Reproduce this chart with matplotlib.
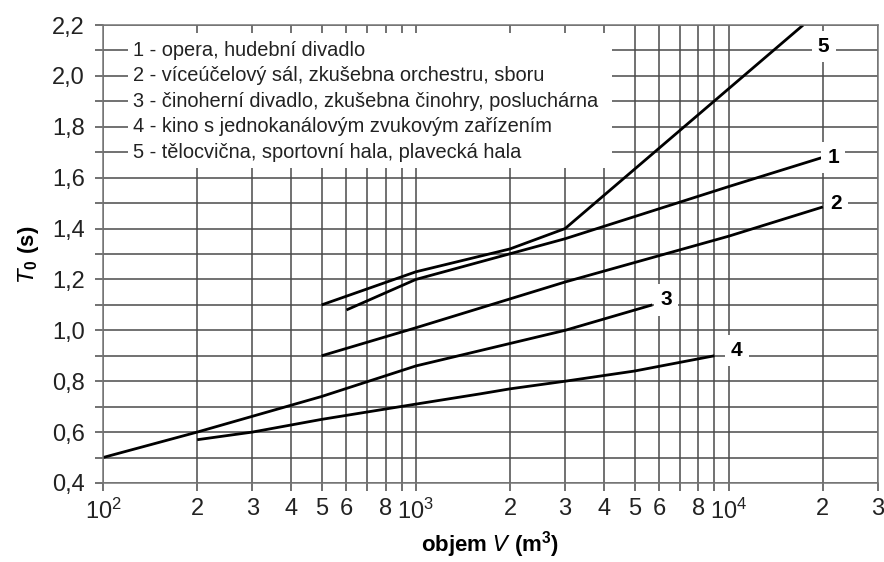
import numpy as np
import matplotlib
matplotlib.use('Agg')
import matplotlib.pyplot as plt
from matplotlib.patches import Rectangle

plt.rcParams['font.family'] = ['Liberation Sans', 'DejaVu Sans']
plt.rcParams['mathtext.default'] = 'regular'

# curve data: volume V (m3) -> T0 (s)
v1 = [600, 1000, 3000, 10000, 20000]
t1 = [1.08, 1.20, 1.36, 1.565, 1.68]
v2 = [500, 1000, 3000, 10000, 20000]
t2 = [0.90, 1.01, 1.19, 1.37, 1.485]
v3 = [100, 200, 500, 1000, 3000, 5700]
t3 = [0.50, 0.60, 0.74, 0.86, 1.00, 1.10]
v4 = [200, 300, 500, 1000, 1600, 2000, 3000, 5000, 9000]
t4 = [0.57, 0.60, 0.65, 0.71, 0.75, 0.77, 0.80, 0.84, 0.90]
v5 = [500, 1000, 2000, 3000, 17300]
t5 = [1.10, 1.23, 1.32, 1.40, 2.20]

curves = [(v1, t1), (v2, t2), (v3, t3), (v4, t4), (v5, t5)]
curve_names = ['1', '2', '3', '4', '5']
name_pos = [(21600, 1.68), (22000, 1.50), (6300, 1.12), (10600, 0.92), (20100, 2.115)]

legend_lines = ['1 - opera, hudební divadlo',
                '2 - víceúčelový sál, zkušebna orchestru, sboru',
                '3 - činoherní divadlo, zkušebna činohry, posluchárna',
                '4 - kino s jednokanálovým zvukovým zařízením',
                '5 - tělocvična, sportovní hala, plavecká hala']
legend_y = [2.1, 2.0, 1.9, 1.8, 1.7]

x_ticks = [100, 200, 300, 400, 500, 600, 700, 800, 900,
           1000, 2000, 3000, 4000, 5000, 6000, 7000, 8000, 9000,
           10000, 20000, 30000]
x_labels = ['$10^2$', '2', '3', '4', '5', '6', '', '8', '',
            '$10^3$', '2', '3', '4', '5', '6', '', '8', '',
            '$10^4$', '2', '3']
y_ticks = [0.4, 0.6, 0.8, 1.0, 1.2, 1.4, 1.6, 1.8, 2.0, 2.2]
y_labels = ['0,4', '0,6', '0,8', '1,0', '1,2', '1,4', '1,6', '1,8', '2,0', '2,2']
y_minor = [0.5, 0.7, 0.9, 1.1, 1.3, 1.5, 1.7, 1.9, 2.1]

gc = '#4a4a4a'

fig = plt.figure(figsize=(8.84, 5.62), dpi=100)
ax = fig.add_axes([0.1165, 0.1406, 0.8767, 0.8149])
ax.set_xscale('log')
ax.set_xlim(100, 30000)
ax.set_ylim(0.4, 2.2)
ax.minorticks_off()
ax.set_xticks(x_ticks, labels=x_labels)
ax.set_yticks(y_ticks, labels=y_labels)
ax.set_yticks(y_minor, minor=True)
ax.tick_params(axis='both', which='both', direction='out', length=6, width=1.1,
               color=gc, labelsize=17, labelcolor='#222222')
ax.tick_params(axis='x', pad=5)
ax.tick_params(axis='y', pad=7)
ax.set_axisbelow(True)
ax.grid(True, which='both', color=gc, lw=1.1)
for s in ax.spines.values():
    s.set_color('#777777')
    s.set_linewidth(1.1)

# white block behind the legend text
ax.add_patch(Rectangle((120, 1.638), 4240 - 120, 2.169 - 1.638,
                       facecolor='white', edgecolor='none', zorder=1))

for v, t in curves:
    ax.plot(v, t, color='black', lw=2, zorder=2, solid_capstyle='butt')

for name, (px, py) in zip(curve_names, name_pos):
    ax.text(px, py, name, fontsize=15, fontweight='bold', ha='center', va='center',
            zorder=4, bbox=dict(boxstyle='square,pad=0.3', fc='white', ec='none'))

for line, ly in zip(legend_lines, legend_y):
    ax.text(125, ly, line, fontsize=14.4, ha='left', va='center', color='#222222', zorder=3)

ax.set_xlabel('objem $\\mathbf{\\mathit{V}}$ (m$^3$)', fontsize=16, fontweight='bold', labelpad=4)
ax.set_ylabel('$\\mathbf{\\mathit{T}}_{0}$ (s)', fontsize=16, fontweight='bold', labelpad=8)

fig.savefig('out.png', dpi=100)
